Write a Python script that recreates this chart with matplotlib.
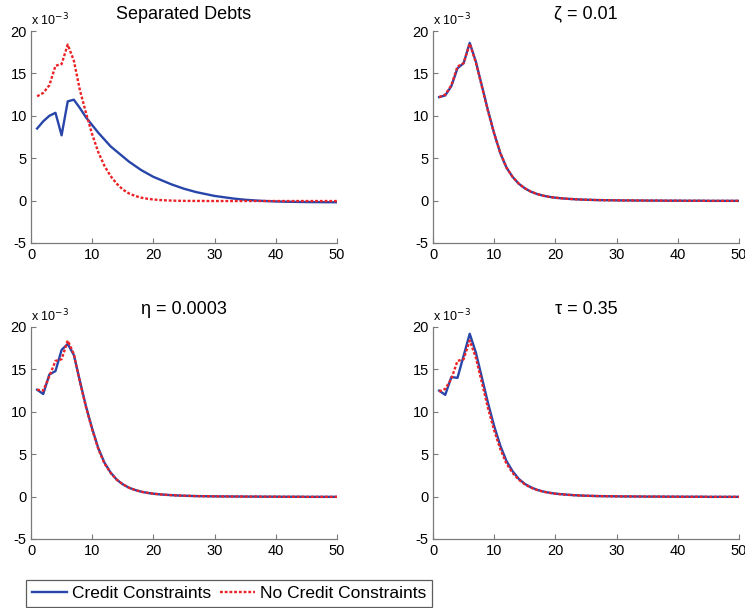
import matplotlib
matplotlib.use("Agg")
import matplotlib.pyplot as plt
import numpy as np

plt.rcParams['font.family'] = ['Liberation Sans', 'DejaVu Sans']

periods = list(range(1, 51))

titles = ["Separated Debts", "\u03b6 = 0.01", "\u03b7 = 0.0003", "\u03c4 = 0.35"]
series_labels = ["Credit Constraints", "No Credit Constraints"]
xticks = [0, 10, 20, 30, 40, 50]
yticks = [-5, 0, 5, 10, 15, 20]

# values in units of 1e-3
cc_sep = [8.5, 9.35, 10.0, 10.35, 7.7, 11.7, 11.9, 10.9, 9.8, 8.9,
          8.0, 7.2, 6.4, 5.8, 5.2, 4.6, 4.1, 3.6, 3.2, 2.8,
          2.5, 2.2, 1.9, 1.65, 1.4, 1.2, 1.0, 0.85, 0.7, 0.55,
          0.45, 0.35, 0.25, 0.17, 0.1, 0.05, 0.0, -0.04, -0.07, -0.1,
          -0.12, -0.14, -0.15, -0.16, -0.17, -0.18, -0.18, -0.19, -0.19, -0.2]
nc_sep = [12.3, 12.7, 13.6, 15.9, 16.1, 18.4, 16.5, 13.0, 10.3, 7.8,
          5.7, 4.1, 2.9, 2.0, 1.3, 0.85, 0.55, 0.35, 0.22, 0.13,
          0.07, 0.03, 0.0, -0.02, -0.03, -0.04, -0.04, -0.04, -0.05, -0.05,
          -0.05, -0.05, -0.05, -0.05, -0.05, -0.05, -0.05, -0.05, -0.05, -0.05,
          -0.05, -0.05, -0.05, -0.05, -0.05, -0.05, -0.05, -0.05, -0.05, -0.05]

cc_zeta = [12.2, 12.4, 13.5, 15.6, 16.2, 18.6, 16.4, 13.5, 10.6, 7.9,
           5.6, 3.9, 2.8, 2.0, 1.45, 1.05, 0.78, 0.58, 0.44, 0.34,
           0.27, 0.21, 0.17, 0.13, 0.1, 0.08, 0.06, 0.05, 0.04, 0.03,
           0.02, 0.02, 0.01, 0.01, 0.0, 0.0, 0.0, -0.01, -0.01, -0.01,
           -0.02, -0.02, -0.02, -0.02, -0.03, -0.03, -0.03, -0.03, -0.03, -0.03]
nc_zeta = [12.2, 12.5, 13.6, 15.8, 16.2, 18.5, 16.3, 13.4, 10.5, 7.9,
           5.6, 3.9, 2.8, 2.0, 1.45, 1.05, 0.78, 0.58, 0.44, 0.34,
           0.27, 0.21, 0.17, 0.13, 0.1, 0.08, 0.06, 0.05, 0.04, 0.03,
           0.02, 0.02, 0.01, 0.01, 0.0, 0.0, 0.0, -0.01, -0.01, -0.01,
           -0.02, -0.02, -0.02, -0.02, -0.03, -0.03, -0.03, -0.03, -0.03, -0.03]

cc_eta = [12.6, 12.1, 14.4, 14.8, 17.3, 18.0, 16.7, 13.6, 10.6, 8.0,
          5.7, 4.0, 2.85, 2.0, 1.45, 1.05, 0.78, 0.58, 0.44, 0.34,
          0.27, 0.21, 0.17, 0.13, 0.1, 0.08, 0.06, 0.05, 0.04, 0.03,
          0.02, 0.02, 0.01, 0.01, 0.0, 0.0, 0.0, -0.01, -0.01, -0.01,
          -0.02, -0.02, -0.02, -0.02, -0.03, -0.03, -0.03, -0.03, -0.03, -0.03]
nc_eta = [12.6, 12.5, 14.2, 16.0, 16.2, 18.4, 16.8, 13.5, 10.5, 7.9,
          5.6, 3.9, 2.8, 2.0, 1.45, 1.05, 0.78, 0.58, 0.44, 0.34,
          0.27, 0.21, 0.17, 0.13, 0.1, 0.08, 0.06, 0.05, 0.04, 0.03,
          0.02, 0.02, 0.01, 0.01, 0.0, 0.0, 0.0, -0.01, -0.01, -0.01,
          -0.02, -0.02, -0.02, -0.02, -0.03, -0.03, -0.03, -0.03, -0.03, -0.03]

cc_tau = [12.5, 12.0, 14.1, 14.0, 16.6, 19.2, 17.0, 14.0, 11.0, 8.3,
          6.0, 4.2, 3.0, 2.1, 1.5, 1.1, 0.8, 0.6, 0.46, 0.35,
          0.28, 0.22, 0.17, 0.13, 0.1, 0.08, 0.06, 0.05, 0.04, 0.03,
          0.02, 0.02, 0.01, 0.01, 0.0, 0.0, 0.0, -0.01, -0.01, -0.01,
          -0.02, -0.02, -0.02, -0.02, -0.03, -0.03, -0.03, -0.03, -0.03, -0.03]
nc_tau = [12.4, 12.7, 13.9, 16.0, 16.2, 18.4, 16.4, 13.4, 10.4, 7.8,
          5.6, 3.9, 2.8, 2.0, 1.45, 1.05, 0.78, 0.58, 0.44, 0.34,
          0.27, 0.21, 0.17, 0.13, 0.1, 0.08, 0.06, 0.05, 0.04, 0.03,
          0.02, 0.02, 0.01, 0.01, 0.0, 0.0, 0.0, -0.01, -0.01, -0.01,
          -0.02, -0.02, -0.02, -0.02, -0.03, -0.03, -0.03, -0.03, -0.03, -0.03]

panels = [(cc_sep, nc_sep), (cc_zeta, nc_zeta), (cc_eta, nc_eta), (cc_tau, nc_tau)]

BLUE = '#2846aa'
RED = '#ec2226'
SPINE = '#7a7a7a'

fig = plt.figure(figsize=(7.45, 6.08), dpi=100)
W, H = 745.0, 608.0
positions = [
    (31, 31, 337, 243),
    (433, 31, 739, 243),
    (31, 327, 337, 539),
    (433, 327, 739, 539),
]

handles = None
for i, (pos, (cc, nc)) in enumerate(zip(positions, panels)):
    l, t, r, b = pos
    ax = fig.add_axes([l / W, 1 - b / H, (r - l) / W, (b - t) / H])
    h1, = ax.plot(periods, cc, color=BLUE, lw=1.7)
    h2, = ax.plot(periods, nc, color=RED, lw=1.7, linestyle=(0, (1.2, 0.8)))
    handles = (h1, h2)
    ax.set_xlim(0, 50)
    ax.set_ylim(-5, 20)
    ax.set_xticks(xticks)
    ax.set_yticks(yticks)
    ax.set_xticklabels([str(v) for v in xticks])
    ax.set_yticklabels([str(v) for v in yticks])
    for s in ['top', 'right']:
        ax.spines[s].set_visible(False)
    for s in ['left', 'bottom']:
        ax.spines[s].set_color(SPINE)
        ax.spines[s].set_linewidth(0.9)
    ax.tick_params(direction='in', length=3.5, width=0.8, color=SPINE,
                   labelsize=10.5)
    ax.tick_params(axis='x', pad=3.5)
    ax.tick_params(axis='y', pad=3)
    ax.set_title(titles[i], fontsize=13, pad=9)
    ax.text(0.0, 1.015, r'x 10$^{-3}$', transform=ax.transAxes,
            fontsize=9, ha='left', va='bottom')

leg = fig.legend(handles, series_labels, loc='lower left',
                 bbox_to_anchor=(26 / W, 1 - 607 / H), ncol=2,
                 fontsize=12.5, frameon=True, fancybox=False,
                 edgecolor='#333333', handlelength=2.0, handletextpad=0.3,
                 columnspacing=0.5, borderpad=0.35, borderaxespad=0)
leg.get_frame().set_linewidth(0.9)

fig.savefig('out.png', dpi=100)
